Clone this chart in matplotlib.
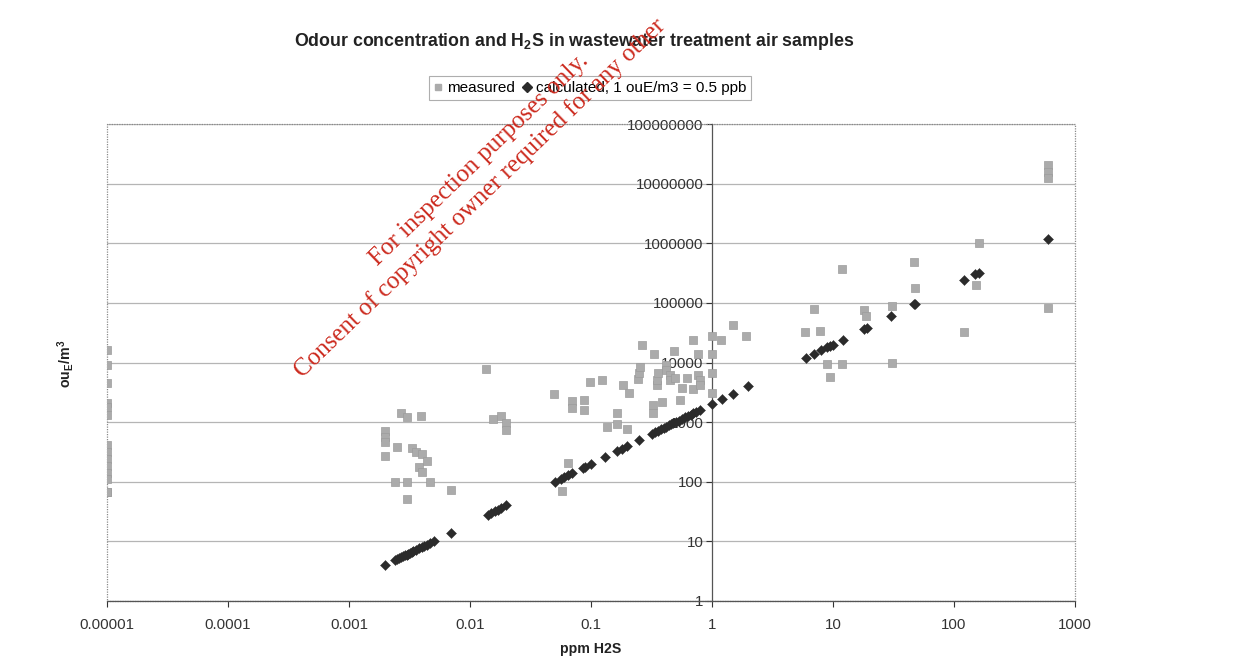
import matplotlib
matplotlib.use('Agg')
import matplotlib.pyplot as plt
from matplotlib.patches import Rectangle
from matplotlib.lines import Line2D

plt.rcParams['font.family'] = ['Liberation Sans', 'DejaVu Sans']
plt.rcParams['mathtext.fontset'] = 'custom'
plt.rcParams['mathtext.rm'] = 'Liberation Sans:bold'
plt.rcParams['mathtext.it'] = 'Liberation Sans:bold'
plt.rcParams['mathtext.bf'] = 'Liberation Sans:bold'

# ---------------- data ----------------
title = r"Odour concentration and H$_{2}$S in wastewater treatment air samples"
x_label = "ppm H2S"
y_label = r"ou$_{E}$/m$^{3}$"
legend_labels = ["measured", "calculated, 1 ouE/m3 = 0.5 ppb"]

x_ticks = [1e-5, 1e-4, 1e-3, 1e-2, 1e-1, 1, 10, 100, 1000]
x_tick_labels = ["0.00001", "0.0001", "0.001", "0.01", "0.1", "1", "10", "100", "1000"]
y_ticks = [1, 10, 100, 1000, 10000, 100000, 1000000, 10000000, 100000000]
y_tick_labels = ["1", "10", "100", "1000", "10000", "100000", "1000000", "10000000", "100000000"]

measured_x = [
    # samples below detection (plotted at 0.00001 ppm)
    0.00001, 0.00001, 0.00001, 0.00001, 0.00001, 0.00001, 0.00001,
    0.00001, 0.00001, 0.00001, 0.00001, 0.00001, 0.00001, 0.00001,
    # low H2S group
    0.002, 0.002, 0.002, 0.002, 0.0024, 0.0025, 0.0027, 0.003, 0.003, 0.003,
    0.0033, 0.0036, 0.0038, 0.0039, 0.004, 0.004, 0.0044, 0.0047, 0.0069,
    0.0136, 0.0154, 0.0179, 0.0198, 0.0198,
    # middle group
    0.049, 0.058, 0.064, 0.069, 0.069, 0.0875, 0.0875, 0.098, 0.123, 0.135,
    0.165, 0.165, 0.185, 0.2, 0.207, 0.246, 0.25, 0.254, 0.262, 0.327, 0.327,
    0.333, 0.349, 0.349, 0.36, 0.384, 0.42, 0.42, 0.45, 0.45, 0.485, 0.494,
    0.544, 0.57, 0.618, 0.692, 0.70, 0.77, 0.77, 0.8, 0.8, 1.0, 1.0, 1.0, 1.0,
    1.19, 1.5, 1.91,
    # high group
    5.87, 6.9, 7.8, 9.0, 9.5, 11.8, 11.8, 18.0, 18.7, 30.6, 30.6, 47.0, 48.0,
    122.0, 151.0, 162.0, 595.0, 595.0, 595.0, 595.0,
]
measured_y = [
    16200, 9100, 4550, 2120, 1770, 1320, 414, 316, 241, 184, 140, 111, 67, 67,
    700, 570, 460, 271, 100, 379, 1440, 1210, 100, 52,
    365, 320, 177, 1270, 293, 144, 226, 100, 73,
    7800, 1118, 1270, 959, 740,
    2970, 71, 204, 2250, 1700, 2350, 1600, 4720, 5110, 841,
    1440, 933, 4210, 778, 3055, 5250, 6610, 8340, 19700, 1410, 1940,
    13700, 4130, 5110, 6690, 2210, 9120, 7510, 6200, 5110, 15700, 5520,
    2350, 3700, 5520, 3600, 23900, 13700, 6200, 5110, 4130, 27900, 13700, 6690, 3060,
    23900, 42700, 27900,
    33000, 78400, 34300, 9480, 5660, 372000, 9480, 76400, 60600, 89000, 9950, 482000, 177000,
    32200, 200000, 1000000, 20700000, 15800000, 12500000, 81500,
]

calculated_x = [
    0.002, 0.0024, 0.0025, 0.0026, 0.0027, 0.0028, 0.0029, 0.003, 0.0031, 0.0032,
    0.0033, 0.0034, 0.0036, 0.0038, 0.004, 0.0042, 0.0044, 0.0047, 0.005, 0.007,
    0.014, 0.015, 0.016, 0.017, 0.018, 0.02,
    0.05, 0.056, 0.06, 0.064, 0.07, 0.086, 0.09, 0.1, 0.13, 0.165, 0.18, 0.2, 0.25,
    0.32, 0.34, 0.36, 0.38, 0.4, 0.42, 0.44, 0.46, 0.48, 0.5, 0.53, 0.56, 0.6, 0.63,
    0.67, 0.7, 0.74, 0.8, 1.0, 1.2, 1.5, 2.0,
    6, 7, 8, 9, 9.5, 10, 12, 18, 19, 30, 47, 48, 122, 150, 160, 600,
]
calculated_y = [
    4, 4.8, 5, 5.2, 5.4, 5.6, 5.8, 6, 6.2, 6.4,
    6.6, 6.8, 7.2, 7.6, 8, 8.4, 8.8, 9.4, 10, 14,
    28, 30, 32, 34, 36, 40,
    100, 112, 120, 128, 140, 172, 180, 200, 260, 330, 360, 400, 500,
    640, 680, 720, 760, 800, 840, 880, 920, 960, 1000, 1060, 1120, 1200, 1260,
    1340, 1400, 1480, 1600, 2000, 2400, 3000, 4000,
    12000, 14000, 16000, 18000, 19000, 20000, 24000, 36000, 38000, 60000, 94000,
    96000, 244000, 300000, 320000, 1200000,
]

watermark_lines = ["For inspection purposes only.",
                   "Consent of copyright owner required for any other"]

# ---------------- figure ----------------
W, H = 1259, 670
fig = plt.figure(figsize=(W / 100, H / 100), dpi=100)
fig.patch.set_facecolor('white')
ax = fig.add_axes([107 / W, 1 - 601 / H, (1075 - 107) / W, (601 - 124) / H])
ax.set_facecolor('white')

ax.set_xscale('log')
ax.set_yscale('log')
ax.set_xlim(1e-5, 1000)
ax.set_ylim(1, 1e8)

sq_col = '#ababab'
dm_col = '#2b2b2b'
ax.scatter(measured_x, measured_y, marker='s', s=28, color=sq_col,
           edgecolors='#9c9c9c', linewidths=0.5, zorder=3)
ax.scatter(calculated_x, calculated_y, marker='D', s=26, color=dm_col,
           edgecolors=dm_col, linewidths=0.3, zorder=4)

# gridlines
for yv in y_ticks:
    ax.axhline(yv, color='#b5b5b5', lw=0.9, zorder=1)

# axes: y axis crosses at x = 1
for s in ['top', 'right']:
    ax.spines[s].set_visible(False)
ax.spines['left'].set_position(('data', 1))
ax.spines['left'].set_color('#555555')
ax.spines['left'].set_linewidth(0.9)
ax.spines['bottom'].set_color('#555555')
ax.spines['bottom'].set_linewidth(0.9)
ax.add_patch(Rectangle((0, 0), 1, 1, transform=ax.transAxes, fill=False,
                       edgecolor='#8a8a8a', lw=0.9, ls=(0, (1, 1)), zorder=2,
                       clip_on=False))

ax.set_xticks(x_ticks)
ax.set_xticklabels(x_tick_labels)
ax.set_yticks(y_ticks)
ax.set_yticklabels(y_tick_labels)
ax.minorticks_off()
ax.tick_params(axis='both', which='major', labelsize=10.8, colors='#333333',
               length=4, width=0.8, direction='out')
ax.tick_params(axis='x', pad=8)
ax.tick_params(axis='y', pad=2)

# titles and labels
fig.text(574 / W, 1 - 42 / H, title, ha='center', va='center',
         fontsize=12.8, fontweight='bold', color='#222222')
fig.text(591 / W, 1 - 649 / H, x_label, ha='center', va='center',
         fontsize=10.2, fontweight='bold', color='#222222')
fig.text(66 / W, 1 - 364 / H, y_label, ha='center', va='center',
         rotation=90, fontsize=10.2, fontweight='bold', color='#222222')

handles = [Line2D([], [], marker='s', ls='', color=sq_col, markersize=5),
           Line2D([], [], marker='D', ls='', color=dm_col, markersize=4.8)]
leg = fig.legend(handles, legend_labels, loc='center', ncol=2,
                 bbox_to_anchor=(590 / W, 1 - 88 / H), fontsize=11,
                 frameon=True, fancybox=False, edgecolor='#9a9a9a',
                 handlelength=0.6, handletextpad=0.3, columnspacing=0.5,
                 borderpad=0.3, borderaxespad=0)
leg.get_frame().set_linewidth(0.8)

# watermark
wm_col = '#cc2a1e'
fig.text(378 / W, 1 - 266 / H, watermark_lines[0], rotation=44,
         rotation_mode='anchor', ha='left', va='baseline', fontsize=18,
         family=['Liberation Serif', 'DejaVu Serif'], color=wm_col, zorder=10)
fig.text(303 / W, 1 - 378 / H, watermark_lines[1], rotation=44,
         rotation_mode='anchor', ha='left', va='baseline', fontsize=18,
         family=['Liberation Serif', 'DejaVu Serif'], color=wm_col, zorder=10)

fig.savefig('out.png', dpi=100)
